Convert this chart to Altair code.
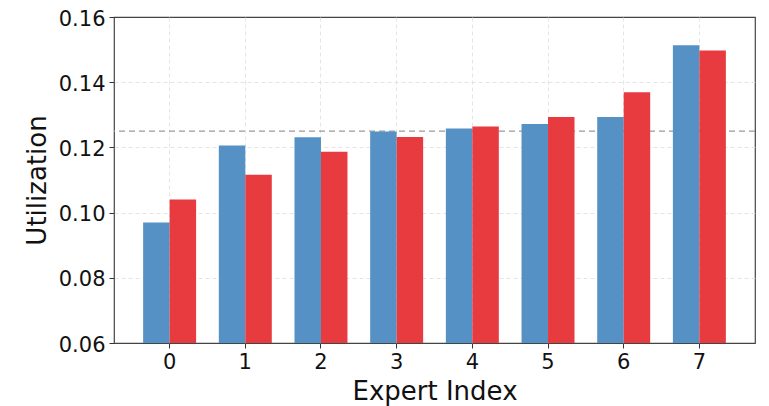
import altair as alt
import pandas as pd

experts = [0, 1, 2, 3, 4, 5, 6, 7]
series_a = [0.0970, 0.1206, 0.1231, 0.1249, 0.1258, 0.1272, 0.1293, 0.1513]
series_b = [0.1040, 0.1116, 0.1187, 0.1232, 0.1264, 0.1293, 0.1369, 0.1497]
series_names = ["Series A", "Series B"]
series_colors = ["#5591C4", "#E83B40"]
uniform_level = [0.125]
y_ticks = [0.06, 0.08, 0.10, 0.12, 0.14, 0.16]

rows = []
for i, e in enumerate(experts):
    rows.append({"expert": str(e), "series": series_names[0], "util": series_a[i]})
    rows.append({"expert": str(e), "series": series_names[1], "util": series_b[i]})
df = pd.DataFrame(rows)
ref_df = pd.DataFrame({"level": uniform_level})

FONT = "DejaVu Sans"

x_enc = alt.X(
    "expert:N",
    sort=[str(e) for e in experts],
    title="Expert Index",
    scale=alt.Scale(paddingInner=0.3, paddingOuter=0.385),
    axis=alt.Axis(
        labelAngle=0, labelFontSize=21, titleFontSize=26, labelFont=FONT, titleFont=FONT,
        titleFontWeight="normal",
        labelColor="#111", titleColor="#111", tickColor="#333", tickSize=5, labelPadding=3,
        titlePadding=6, domain=False, grid=True, gridColor="#dddddd", gridDash=[4, 3],
        gridWidth=0.8, bandPosition=0.5,
    ),
)

y_scale = alt.Scale(domain=[0.06, 0.16], zero=False, nice=False)
y_axis = alt.Axis(
    values=y_ticks, format=".2f", labelFontSize=21, titleFontSize=26, labelFont=FONT,
    titleFont=FONT, titleFontWeight="normal", labelColor="#111", titleColor="#111",
    tickColor="#333", tickSize=5, labelPadding=4, titlePadding=8, domain=False, grid=True,
    labelOffset=2,
    gridColor="#dddddd", gridDash=[4, 3], gridWidth=0.8,
    gridOpacity=alt.condition("datum.value >= 0.159 || datum.value <= 0.061", alt.value(0), alt.value(1)),
)

bars = alt.Chart(df).mark_bar(clip=True).encode(
    x=x_enc,
    xOffset=alt.XOffset("series:N", sort=series_names, scale=alt.Scale(paddingInner=0, paddingOuter=0)),
    y=alt.Y("util:Q", scale=y_scale, axis=y_axis, title="Utilization"),
    color=alt.Color("series:N", scale=alt.Scale(domain=series_names, range=series_colors), legend=None),
)

rule = alt.Chart(ref_df).mark_rule(color="#999999", strokeDash=[6, 4], strokeWidth=1.4).encode(
    y=alt.Y("level:Q", scale=y_scale)
)

chart = alt.layer(rule, bars).properties(
    width=641,
    height=326,
    autosize=alt.AutoSizeParams(type="none"),
    padding={"left": 106, "top": 9, "right": 4, "bottom": 64},
).configure_view(stroke="#444444", strokeWidth=1.2)

chart.save("out.html", embed_options={"renderer": "svg", "actions": False})
